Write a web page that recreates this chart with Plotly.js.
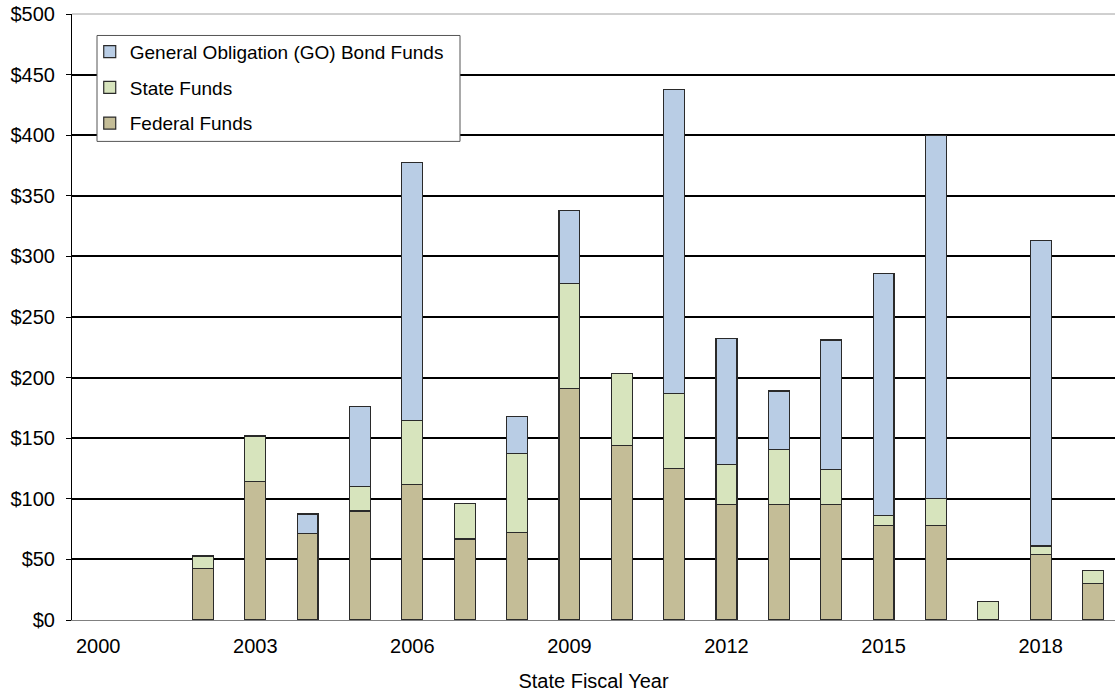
<!DOCTYPE html>
<html>
<head>
<meta charset="utf-8">
<script src="https://cdn.plot.ly/plotly-3.0.1.min.js"></script>
<style>html,body{margin:0;padding:0;background:#fff;overflow:hidden}#chart{width:1115px;height:693px}</style>
</head>
<body>
<div id="chart"></div>
<script>
const years = [2002, 2003, 2004, 2005, 2006, 2007, 2008, 2009, 2010, 2011, 2012, 2013, 2014, 2015, 2016, 2017, 2018, 2019];
const federalFunds = [42.6, 114.6, 71.5, 90, 111.5, 66.8, 72.5, 190.7, 144, 125, 95, 95, 95, 78, 78, null, 54, 30];
const stateFunds = [10.2, 37.2, null, 20, 53, 29.4, 64.6, 87, 59.6, 62, 33.2, 46, 29, 8, 22, 15.4, 7, 11];
const goBondFunds = [null, null, 16, 66, 213, null, 31, 60, null, 251, 104, 48, 107, 200, 300, null, 252, null];
const tickYears = [2000, 2003, 2006, 2009, 2012, 2015, 2018];
const tickLabels = ['2000', '2003', '2006', '2009', '2012', '2015', '2018'];
const yTicks = [0, 50, 100, 150, 200, 250, 300, 350, 400, 450, 500];
const yTickLabels = ['$0', '$50', '$100', '$150', '$200', '$250', '$300', '$350', '$400', '$450', '$500'];

const font = {family: 'Liberation Sans, Arial, sans-serif', size: 20, color: '#000'};
const legendFont = {family: 'Liberation Sans, Arial, sans-serif', size: 19, color: '#000'};
const outline = {color: '#2a2a2a', width: 1.2};

function bar(name, y, color, group, rank) {
  return {
    type: 'bar', name: name, x: years, y: y, width: 0.4,
    legendgroup: group, legendrank: rank,
    marker: {color: color, line: outline},
    hoverinfo: 'x+y+name'
  };
}

const data = [
  bar('Federal Funds', federalFunds, '#C4BD97', 'c', 3),
  bar('State Funds', stateFunds, '#D7E4BD', 'b', 2),
  bar('General Obligation (GO) Bond Funds', goBondFunds, '#B9CDE5', 'a', 1)
];

const layout = {
  width: 1115, height: 693,
  margin: {l: 72, r: 0, t: 13.5, b: 73, pad: 0},
  paper_bgcolor: '#fff', plot_bgcolor: '#fff',
  font: font,
  barmode: 'stack',
  showlegend: true,
  legend: {
    x: 0.017, y: 0.969, xanchor: 'left', yanchor: 'top',
    bgcolor: 'rgba(0,0,0,0)', borderwidth: 0,
    traceorder: 'grouped', tracegroupgap: 8,
    font: legendFont
  },
  xaxis: {
    range: [1999.5, 2019.42],
    tickmode: 'array', tickvals: tickYears, ticktext: tickLabels,
    showgrid: false, zeroline: false,
    showline: true, linecolor: '#808080', linewidth: 1,
    ticks: '', ticklabelstandoff: 8, tickfont: font,
    title: {text: 'State Fiscal Year', font: font, standoff: 17}
  },
  yaxis: {
    range: [0, 500],
    tickmode: 'array', tickvals: yTicks, ticktext: yTickLabels,
    showgrid: true, gridcolor: '#000', gridwidth: 2,
    zeroline: false,
    showline: true, linecolor: '#000', linewidth: 1,
    ticks: 'outside', ticklen: 5, tickcolor: '#000', tickwidth: 1,
    ticklabelstandoff: 7,
    tickfont: font
  },
  shapes: [
    {type: 'line', xref: 'paper', yref: 'paper', x0: 0, x1: 1, y0: 1, y1: 1, line: {color: '#a0a0a0', width: 1}},
    {type: 'rect', xref: 'paper', yref: 'paper',
     x0: (97 - 72) / 1043, x1: (460 - 72) / 1043,
     y0: (620 - 141) / 606.5, y1: (620 - 35) / 606.5,
     fillcolor: '#fff', line: {color: '#555', width: 1}, layer: 'above'}
  ]
};

Plotly.newPlot('chart', data, layout, {displayModeBar: false, staticPlot: true});
</script>
</body>
</html>
